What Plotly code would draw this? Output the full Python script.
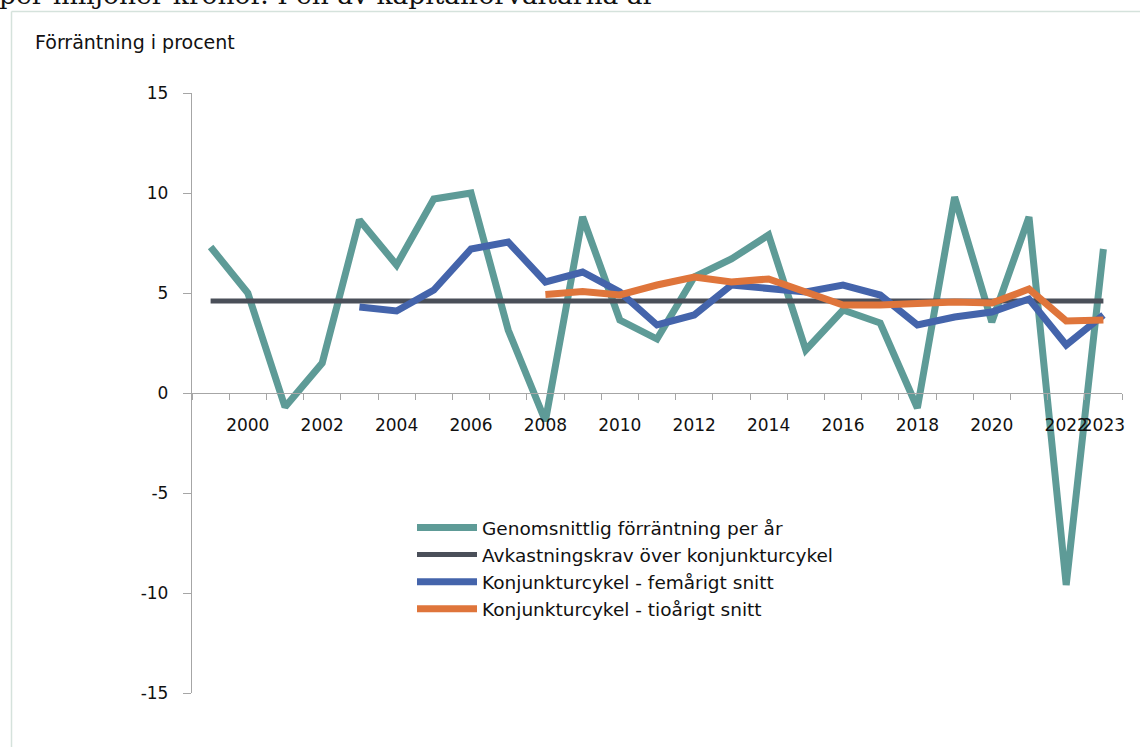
import plotly.graph_objects as go

years = [str(y) for y in range(1999, 2024)]
x_tick_labels = ["", "2000", "", "2002", "", "2004", "", "2006", "", "2008", "", "2010", "",
                 "2012", "", "2014", "", "2016", "", "2018", "", "2020", "", "2022", "2023"]
y_tick_vals = [-15, -10, -5, 0, 5, 10, 15]
y_tick_labels = ["-15", "-10", "-5", "0", "5", "10", "15"]

genomsnitt = [7.3, 5.0, -0.7, 1.5, 8.65, 6.4, 9.7, 10.0, 3.15, -1.4, 8.8, 3.65, 2.7,
              5.8, 6.7, 7.9, 2.15, 4.15, 3.5, -0.75, 9.8, 3.55, 8.8, -9.6, 7.2]
avkastningskrav = [4.6, 4.6, 4.6, 4.6, 4.6, 4.6, 4.6, 4.6, 4.6, 4.6, 4.6, 4.6, 4.6,
                   4.6, 4.6, 4.6, 4.6, 4.6, 4.6, 4.6, 4.6, 4.6, 4.6, 4.6, 4.6]
femarigt = [None, None, None, None, 4.3, 4.1, 5.15, 7.2, 7.55, 5.55, 6.05, 5.05, 3.4,
            3.9, 5.4, 5.25, 5.05, 5.4, 4.9, 3.4, 3.8, 4.05, 4.7, 2.4, 3.9]
tioarigt = [None, None, None, None, None, None, None, None, None, 4.93, 5.07, 4.9, 5.4,
            5.8, 5.55, 5.7, 5.05, 4.4, 4.4, 4.5, 4.55, 4.5, 5.2, 3.6, 3.65]

series = [
    ("Genomsnittlig förräntning per år", genomsnitt, "#5e9b97", 7),
    ("Avkastningskrav över konjunkturcykel", avkastningskrav, "#4a4f59", 5),
    ("Konjunkturcykel - femårigt snitt", femarigt, "#4464ab", 7),
    ("Konjunkturcykel - tioårigt snitt", tioarigt, "#df753b", 7),
]

FONT = "DejaVu Sans"
W, H = 1140, 747
ML, MR, MT, MB = 192, 18, 93, 54
PW, PH = W - ML - MR, H - MT - MB


def px_x(x):
    return (x - ML) / PW


def px_y(y):
    return (H - MB - y) / PH


fig = go.Figure()
for name, vals, color, width in series:
    fig.add_trace(go.Scatter(
        x=years, y=vals, name=name, mode="lines",
        line=dict(color=color, width=width),
        connectgaps=False,
    ))

axis_gray = "#a6a6a6"
fig.update_layout(
    width=W, height=H,
    margin=dict(l=ML, r=MR, t=MT, b=MB, autoexpand=False),
    paper_bgcolor="white", plot_bgcolor="white",
    font=dict(family=FONT, size=17, color="#111111"),
    showlegend=True,
    legend=dict(
        x=px_x(412), y=px_y(509), xanchor="left", yanchor="top",
        font=dict(family=FONT, size=18.5, color="#111111"),
        bgcolor="rgba(0,0,0,0)", itemwidth=60,
        tracegroupgap=0,
    ),
    xaxis=dict(
        type="category", categoryorder="array", categoryarray=years,
        range=[-0.5, 24.5],
        tickmode="array", tickvals=years, ticktext=x_tick_labels,
        tickson="boundaries", ticks="outside", ticklen=6, tickcolor=axis_gray,
        showline=True, linecolor=axis_gray, linewidth=1.3,
        showgrid=False, zeroline=False,
        anchor="free", position=0.5, automargin=False, tickangle=0,
        tickfont=dict(family=FONT, size=17, color="#111111"),
        ticklabelstandoff=16,
    ),
    yaxis=dict(
        range=[-15, 15], tickmode="array", tickvals=y_tick_vals, ticktext=y_tick_labels,
        ticks="outside", ticklen=8, tickcolor=axis_gray,
        showline=True, linecolor=axis_gray, linewidth=1.3,
        showgrid=False, zeroline=False, automargin=False,
        tickfont=dict(family=FONT, size=17, color="#111111"),
        ticklabelstandoff=11,
    ),
    annotations=[
        dict(text="Förräntning i procent", xref="paper", yref="paper",
             x=px_x(33), y=px_y(42), xanchor="left", yanchor="middle",
             showarrow=False, font=dict(family=FONT, size=19, color="#111111")),
        dict(text="per miljoner kronor. I en av kapitalförvaltarna är", xref="paper", yref="paper",
             x=px_x(-3), y=px_y(12), xanchor="left", yanchor="bottom",
             showarrow=False, font=dict(family="DejaVu Serif", size=26.5, color="#111111")),
    ],
    shapes=[
        dict(type="line", xref="paper", yref="paper",
             x0=px_x(11.5), x1=px_x(W), y0=px_y(11.5), y1=px_y(11.5),
             line=dict(color="#d5e2dc", width=1.5)),
        dict(type="line", xref="paper", yref="paper",
             x0=px_x(11.5), x1=px_x(11.5), y0=px_y(11.5), y1=px_y(H),
             line=dict(color="#d5e2dc", width=1.5)),
    ],
)

fig.write_html("out.html", config={"displayModeBar": False},
               post_script="document.body.style.margin='0';document.body.style.overflow='hidden';")
